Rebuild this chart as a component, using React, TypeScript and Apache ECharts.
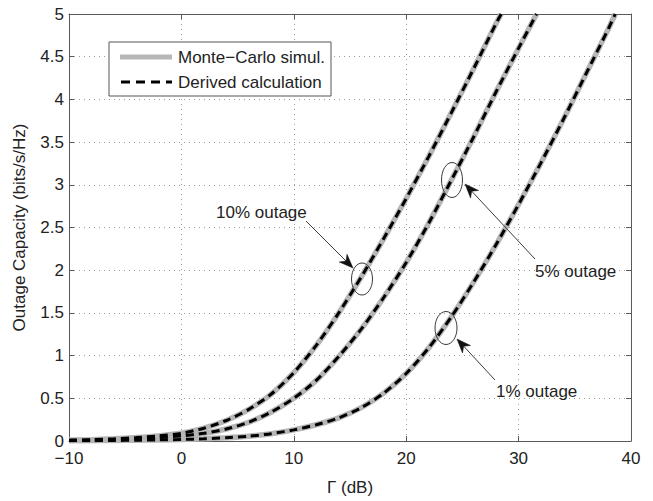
import React, { useEffect, useRef } from "react";
import * as echarts from "echarts";

// Γ (dB) sample points and outage capacity (bits/s/Hz)
const GAMMA_10 = [-10, -8, -6, -4, -2, 0, 2, 4, 6, 8, 10, 12, 14, 16, 18, 20, 22, 24, 26, 28, 28.45];
const CAP_10 = [0.01, 0.015, 0.025, 0.04, 0.06, 0.09, 0.15, 0.24, 0.37, 0.55, 0.8, 1.12, 1.5, 1.92, 2.37, 2.84, 3.33, 3.84, 4.36, 4.89, 5.0];

const GAMMA_5 = [-10, -8, -6, -4, -2, 0, 2, 4, 6, 8, 10, 12, 14, 16, 18, 20, 22, 24, 26, 28, 30, 31.6];
const CAP_5 = [0.008, 0.012, 0.018, 0.027, 0.04, 0.06, 0.09, 0.14, 0.22, 0.34, 0.5, 0.71, 0.99, 1.31, 1.68, 2.09, 2.55, 3.05, 3.56, 4.09, 4.6, 5.0];

const GAMMA_1 = [-10, -8, -6, -4, -2, 0, 2, 4, 6, 8, 10, 12, 14, 16, 18, 20, 22, 24, 26, 28, 30, 32, 34, 36, 38, 38.6];
const CAP_1 = [0.003, 0.004, 0.006, 0.009, 0.013, 0.018, 0.026, 0.038, 0.056, 0.086, 0.13, 0.19, 0.27, 0.39, 0.56, 0.79, 1.09, 1.45, 1.86, 2.3, 2.77, 3.26, 3.77, 4.3, 4.83, 5.0];

const LEGEND_LABELS = ["Monte\u2212Carlo simul.", "Derived calculation"];
const ANNOTATION_LABELS = ["10% outage", "5% outage", "1% outage"];

const X_MIN = -10, X_MAX = 40, X_STEP = 10;
const Y_MIN = 0, Y_MAX = 5, Y_STEP = 0.5;

const FONT = '"Liberation Sans", Arial, Helvetica, sans-serif';
const TEXT_COLOR = "#222";
const AXIS_COLOR = "#5a5a5a";
const GREY = "#b6b6b6";

function pairs(xs: number[], ys: number[]) {
  return xs.map((x, i) => [x, ys[i]]);
}

function arrow(x1: number, y1: number, x2: number, y2: number) {
  const dx = x2 - x1, dy = y2 - y1;
  const len = Math.hypot(dx, dy);
  const ux = dx / len, uy = dy / len;
  const nx = -uy, ny = ux;
  const L = 14, W = 5.5;
  const bx = x2 - ux * L, by = y2 - uy * L;
  const notchX = x2 - ux * L * 0.7, notchY = y2 - uy * L * 0.7;
  return [
    { type: "line", z: 50, shape: { x1, y1, x2: notchX, y2: notchY }, style: { stroke: "#3a3a3a", lineWidth: 1 } },
    {
      type: "polygon",
      z: 50,
      shape: { points: [[x2, y2], [bx + nx * W, by + ny * W], [notchX, notchY], [bx - nx * W, by - ny * W]] },
      style: { fill: "#111", stroke: "#111", lineWidth: 0.5 },
    },
  ];
}

function txt(x: number, y: number, text: string) {
  return {
    type: "text",
    z: 60,
    x,
    y,
    style: { text, font: `17px ${FONT}`, fill: TEXT_COLOR, textVerticalAlign: "middle", verticalAlign: "middle" },
  };
}

function ellipse(cx: number, cy: number, rx: number, ry: number) {
  return { type: "ellipse", z: 50, shape: { cx, cy, rx, ry }, style: { fill: "none", stroke: "#3a3a3a", lineWidth: 1 } };
}

export default function App() {
  const ref = useRef<HTMLDivElement>(null);

  useEffect(() => {
    if (!ref.current) return;
    const chart = echarts.init(ref.current, null, { renderer: "svg" });

    const axisLine = { show: true, onZero: false, lineStyle: { color: AXIS_COLOR, width: 1 } };
    const axisTick = { show: true, inside: true, length: 5, lineStyle: { color: AXIS_COLOR } };
    const splitLine = { show: true, lineStyle: { color: "#9a9a9a", type: [1, 4], width: 1 } };

    const curves = [
      { x: GAMMA_10, y: CAP_10 },
      { x: GAMMA_5, y: CAP_5 },
      { x: GAMMA_1, y: CAP_1 },
    ];

    const series: any[] = [];
    curves.forEach((c) => {
      series.push({
        type: "line",
        data: pairs(c.x, c.y),
        smooth: 0.25,
        showSymbol: false,
        lineStyle: { color: GREY, width: 5.5 },
        z: 2,
      });
    });
    curves.forEach((c) => {
      series.push({
        type: "line",
        data: pairs(c.x, c.y),
        smooth: 0.25,
        showSymbol: false,
        lineStyle: { color: "#000", width: 3, type: [8, 5] },
        z: 3,
      });
    });

    const graphic: any[] = [
      // legend
      { type: "rect", z: 70, shape: { x: 109, y: 42, width: 222, height: 54 }, style: { fill: "#fff", stroke: "#555", lineWidth: 1 } },
      { type: "line", z: 71, shape: { x1: 120, y1: 57, x2: 172, y2: 57 }, style: { stroke: GREY, lineWidth: 5 } },
      { type: "line", z: 71, shape: { x1: 121, y1: 82, x2: 172, y2: 82 }, style: { stroke: "#000", lineWidth: 3, lineDash: [9, 6] } },
      { ...txt(178, 57, LEGEND_LABELS[0]), z: 72 },
      { ...txt(178, 82, LEGEND_LABELS[1]), z: 72 },
      // 10% annotation
      txt(216, 212, ANNOTATION_LABELS[0]),
      ...arrow(306, 221, 353, 268),
      ellipse(362, 279, 10.5, 16),
      // 5% annotation
      txt(535, 271, ANNOTATION_LABELS[1]),
      ...arrow(535, 259, 465, 184),
      ellipse(452, 180, 10.5, 17.5),
      // 1% annotation
      txt(496, 391, ANNOTATION_LABELS[2]),
      ...arrow(495, 380, 457, 339),
      ellipse(446, 328, 11, 16.5),
    ];

    chart.setOption({
      animation: false,
      backgroundColor: "#fff",
      textStyle: { fontFamily: FONT },
      grid: { left: 69, right: 22, top: 14, bottom: 52, show: false },
      xAxis: [
        {
          type: "value",
          position: "bottom",
          min: X_MIN,
          max: X_MAX,
          interval: X_STEP,
          name: "\u0393 (dB)",
          nameLocation: "middle",
          nameGap: 38,
          nameTextStyle: { fontSize: 17, color: TEXT_COLOR, fontFamily: FONT },
          axisLine,
          axisTick,
          axisLabel: {
            fontSize: 17,
            color: TEXT_COLOR,
            fontFamily: FONT,
            margin: 9,
            formatter: (v: number) => String(v).replace("-", "\u2212"),
          },
          splitLine,
        },
        {
          type: "value",
          position: "top",
          min: X_MIN,
          max: X_MAX,
          interval: X_STEP,
          axisLine,
          axisTick,
          axisLabel: { show: false },
          splitLine: { show: false },
        },
      ],
      yAxis: [
        {
          type: "value",
          position: "left",
          min: Y_MIN,
          max: Y_MAX,
          interval: Y_STEP,
          name: "Outage Capacity (bits/s/Hz)",
          nameLocation: "middle",
          nameGap: 41,
          nameTextStyle: { fontSize: 17, color: TEXT_COLOR, fontFamily: FONT },
          axisLine,
          axisTick,
          axisLabel: { fontSize: 17, color: TEXT_COLOR, fontFamily: FONT, margin: 5 },
          splitLine,
        },
        {
          type: "value",
          position: "right",
          min: Y_MIN,
          max: Y_MAX,
          interval: Y_STEP,
          axisLine,
          axisTick,
          axisLabel: { show: false },
          splitLine: { show: false },
        },
      ],
      series,
      graphic,
    });

    return () => chart.dispose();
  }, []);

  return (
    <div
      ref={ref}
      style={{ position: "fixed", left: 0, top: 0, width: 653, height: 501, background: "#fff" }}
    />
  );
}
